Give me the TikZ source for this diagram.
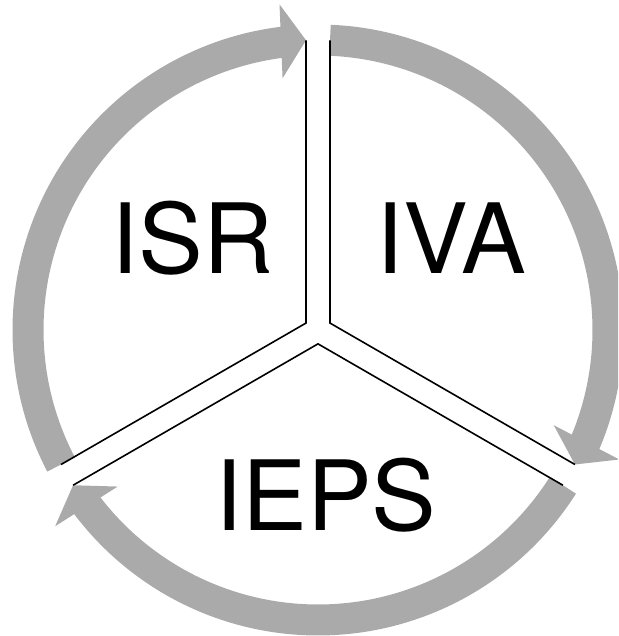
\documentclass[tikz,border=0pt]{standalone}
\usepackage{fontspec}
\setmainfont{TeX Gyre Heros}
\usetikzlibrary{calc}
\definecolor{ringgray}{RGB}{170,170,170}

\begin{document}
\begin{tikzpicture}[x=1pt,y=1pt,
  ringarc/.style={draw=ringgray,line width=31pt},
  ringtip/.style={fill=ringgray},
  sepline/.style={draw=black,line width=1.6pt,line join=miter},
  stagetext/.style={font=\fontsize{97}{97}\selectfont,inner sep=0pt,anchor=base}]
\useasboundingbox (-318,-306) rectangle (300,330);
\clip (-318,-306) rectangle (300,330);

% ends of the separating lines on the ring
\coordinate (topL) at (92.37:290);
\coordinate (topR) at (87.63:290);
\coordinate (rightU) at (332.37:290);
\coordinate (rightL) at (327.63:290);
\coordinate (leftU) at (207.63:290);
\coordinate (leftL) at (212.37:290);

%Arc ISR to IVA
\draw[ringarc] (leftU) arc[start angle=207.63,end angle=96.9,radius=290];
\fill[ringtip] (topL) -- ($(topL)+(182.37:25)+(92.37:37)$) -- ($(topL)+(182.37:25)+(272.37:37)$) -- cycle;
%Arc IVA to IEPS
\draw[ringarc] (topR) arc[start angle=87.63,end angle=-23.1,radius=290];
\fill[ringtip] (rightU) -- ($(rightU)+(62.37:25)+(-27.63:37)$) -- ($(rightU)+(62.37:25)+(152.37:37)$) -- cycle;
%Arc IEPS to ISR
\draw[ringarc] (rightL) arc[start angle=327.63,end angle=216.9,radius=290];
\fill[ringtip] (leftL) -- ($(leftL)+(302.37:25)+(212.37:37)$) -- ($(leftL)+(302.37:25)+(32.37:37)$) -- cycle;

% separating lines
\coordinate (israpex) at (150:13.86);
\coordinate (ivaapex) at (30:13.86);
\coordinate (iepsapex) at (270:13.86);
\draw[sepline] (leftU) -- (israpex) -- (topL);
\draw[sepline] (topR) -- (ivaapex) -- (rightU);
\draw[sepline] (rightL) -- (iepsapex) -- (leftL);

% Text Node
\node[stagetext] (isr) at (-125.5,56.5) {ISR};
% Text Node
\node[stagetext] (iva) at (133.5,56) {IVA};
% Text Node
\node[stagetext] (ieps) at (8,-200.7) {IEPS};
\end{tikzpicture}
\end{document}
